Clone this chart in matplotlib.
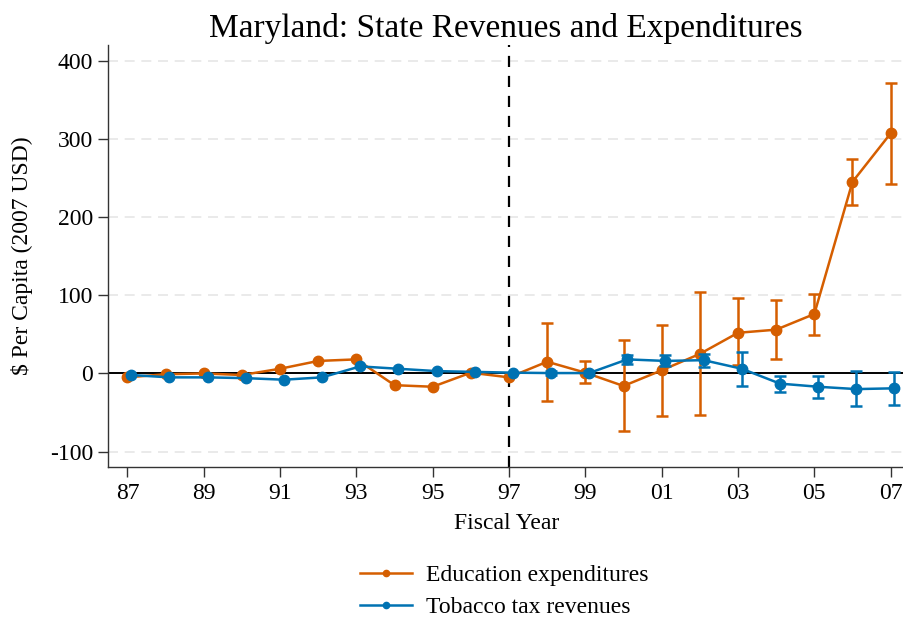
#!/usr/bin/env python3

import matplotlib

matplotlib.use("Agg")
import matplotlib.pyplot as plt
import numpy as np


YEARS = np.arange(87, 108)
YEAR_LABELS = ["87", "89", "91", "93", "95", "97", "99", "01", "03", "05", "07"]

EDUCATION = [-5, -1, 0, -2, 6, 16, 18, -15, -17, 1, -5,
             15, 1, -16, 4, 25, 52, 56, 76, 245, 307]
EDUCATION_LOW = [None] * 11 + [-35, -12, -74, -55, -53, 11, 18, 49, 215, 242]
EDUCATION_HIGH = [None] * 11 + [65, 16, 43, 62, 104, 97, 94, 101, 274, 372]

TOBACCO = [-2, -5, -5, -6, -8, -5, 9, 6, 3, 2, 1,
           0.5, 0.5, 18, 16, 17, 6, -13, -17, -20, -19]
TOBACCO_LOW = [None] * 11 + [-1.5, -1.5, 12, 9, 8, -16, -24, -31, -42, -40]
TOBACCO_HIGH = [None] * 11 + [2.5, 2.5, 23, 23, 25, 27, -3, -3, 3, 2]

ORANGE = "#D55E00"
BLUE = "#0072B2"

plt.rcParams["font.family"] = ["Liberation Serif", "DejaVu Serif"]
plt.rcParams["axes.unicode_minus"] = False

fig = plt.figure(figsize=(9.04, 6.20), dpi=100)
ax = fig.add_axes([0.1198, 0.2463, 0.8802, 0.6811])

for values, low, high, color, offset, label in [
    (EDUCATION, EDUCATION_LOW, EDUCATION_HIGH, ORANGE, 0.0, "Education expenditures"),
    (TOBACCO, TOBACCO_LOW, TOBACCO_HIGH, BLUE, 0.1, "Tobacco tax revenues"),
]:
    x = YEARS + offset
    ax.plot(x, values, "-o", color=color, lw=1.8, ms=7.5, label=label, zorder=3)
    idx = [i for i, v in enumerate(low) if v is not None]
    xs = x[idx]
    ys = np.array([values[i] for i in idx], dtype=float)
    lo = np.array([low[i] for i in idx], dtype=float)
    hi = np.array([high[i] for i in idx], dtype=float)
    ax.errorbar(xs, ys, yerr=[ys - lo, hi - ys], fmt="none", ecolor=color,
                elinewidth=1.8, capsize=4, capthick=1.8, zorder=3)

ax.axhline(0, color="black", lw=1.4, zorder=2)
ax.axvline(97, color="black", lw=1.6, ls=(0, (5, 4)), zorder=2)

ax.set_xlim(86.5, 107.35)
ax.set_ylim(-120, 420)
ax.set_xticks(np.arange(87, 108, 2))
ax.set_xticklabels(YEAR_LABELS)
ax.set_yticks([-100, 0, 100, 200, 300, 400])
for yv in [-100, 100, 200, 300, 400]:
    ax.axhline(yv, color="#e6e6e6", lw=1.2, ls=(0, (6, 4)), zorder=1)

for side in ["top", "right"]:
    ax.spines[side].set_visible(False)
for side in ["left", "bottom"]:
    ax.spines[side].set_color("#333333")
    ax.spines[side].set_linewidth(1.0)
ax.tick_params(direction="out", length=7, width=1.0, color="#333333",
               labelsize=17, pad=4)

ax.set_title("Maryland: State Revenues and Expenditures", fontsize=24, pad=6)
ax.set_xlabel("Fiscal Year", fontsize=17, labelpad=7)
ax.set_ylabel("\\$ Per Capita (2007 USD)", fontsize=17, labelpad=12)

fig.legend(*ax.get_legend_handles_labels(), loc="center",
           bbox_to_anchor=(0.558, 0.046), frameon=False, fontsize=17,
           markerscale=0.6, handlelength=2.2, handletextpad=0.6,
           labelspacing=0.45)

fig.savefig("out.png", dpi=100)
